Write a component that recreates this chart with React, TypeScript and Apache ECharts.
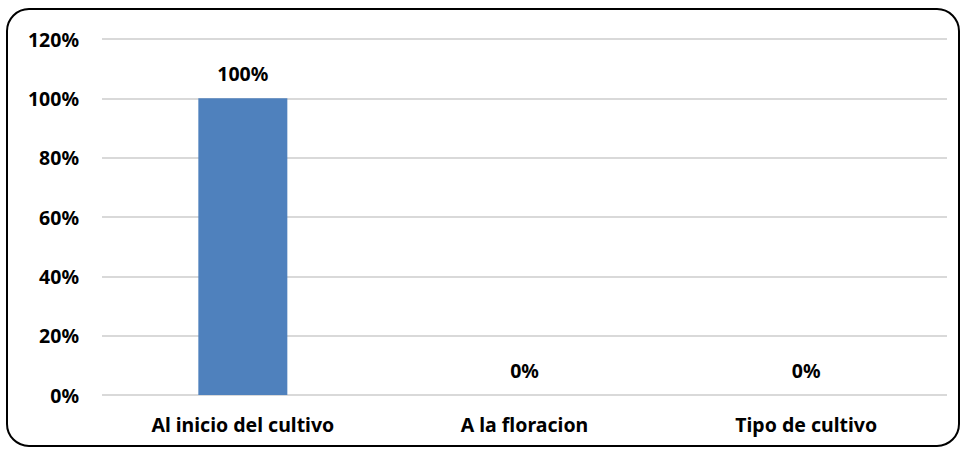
import React, { useEffect, useRef } from "react";
import * as echarts from "echarts";

const categories = ["Al inicio del cultivo", "A la floracion", "Tipo de cultivo"];
const values = [100, 0, 0];
const yTicks = [0, 20, 40, 60, 80, 100, 120];

export default function App() {
  const ref = useRef<HTMLDivElement>(null);
  useEffect(() => {
    if (!ref.current) return;
    const chart = echarts.init(ref.current, null, { renderer: "svg" });
    const font = "'Noto Sans', 'Open Sans', sans-serif";
    chart.setOption({
      animation: false,
      backgroundColor: "#ffffff",
      grid: { left: 102, right: 18, top: 39, bottom: 57, containLabel: false },
      graphic: [
        {
          type: "rect",
          shape: { x: 7, y: 9, width: 952, height: 437, r: 22 },
          style: { fill: "none", stroke: "#000000", lineWidth: 2 },
          silent: true,
        },
      ],
      xAxis: {
        type: "category",
        data: categories,
        axisLine: { show: false },
        axisTick: { show: false },
        axisLabel: {
          color: "#000000",
          fontFamily: font,
          fontWeight: "bold",
          fontSize: 19.5,
          margin: 19,
        },
      },
      yAxis: {
        type: "value",
        min: 0,
        max: 120,
        interval: 20,
        axisLine: { show: false },
        axisTick: { show: false },
        splitLine: { lineStyle: { color: "#D9D9D9", width: 2 } },
        axisLabel: {
          color: "#000000",
          fontFamily: font,
          fontWeight: "bold",
          fontSize: 19.5,
          margin: 23,
          formatter: (v: number) => (yTicks.includes(v) ? v + "%" : ""),
        },
      },
      series: [
        {
          type: "bar",
          data: values,
          barWidth: 89,
          itemStyle: { color: "#4F81BD" },
          label: {
            show: true,
            position: "top",
            distance: 15,
            color: "#000000",
            fontFamily: font,
            fontWeight: "bold",
            fontSize: 19.5,
            formatter: (p: any) => p.value + "%",
          },
        },
      ],
    });
    return () => chart.dispose();
  }, []);
  return (
    <div
      ref={ref}
      style={{ position: "fixed", left: 0, top: 0, width: 965, height: 452 }}
    />
  );
}
